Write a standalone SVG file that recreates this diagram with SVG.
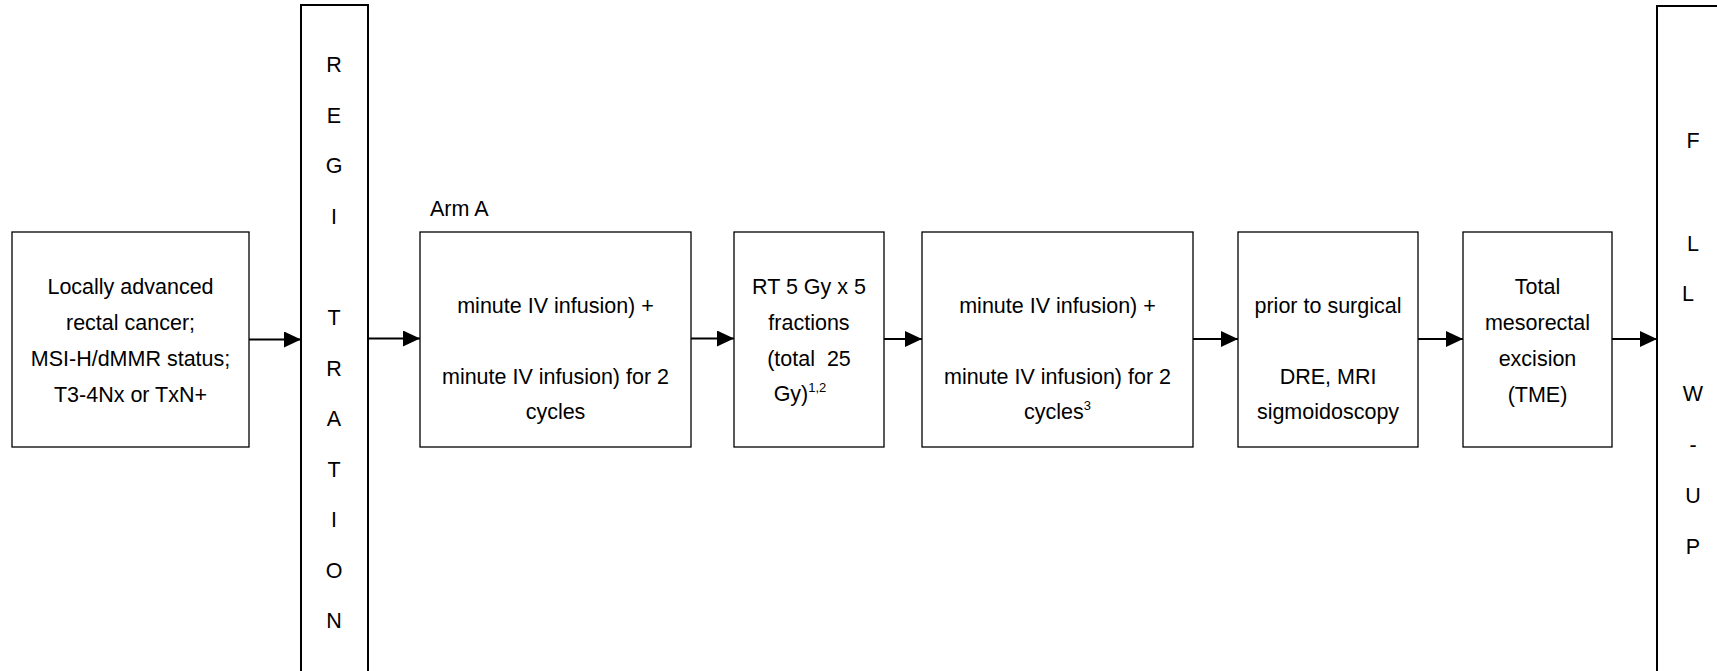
<svg xmlns="http://www.w3.org/2000/svg" width="1717" height="671" viewBox="0 0 1717 671">
<style>
text{font-family:"Liberation Sans",Arial,sans-serif;font-size:21.5px;fill:#000;text-anchor:middle}
.box{fill:#fff;stroke:#000;stroke-width:1.3}
.tall{fill:#fff;stroke:#000;stroke-width:2}
.sup{font-size:13px}
.conn{stroke:#000;stroke-width:2.2;fill:none;marker-end:url(#ah)}
</style>
<defs>
<marker id="ah" markerUnits="userSpaceOnUse" markerWidth="18" markerHeight="16" refX="17" refY="8" orient="auto">
<path d="M0,0 L17,8 L0,16 Z" fill="#000"/>
</marker>
</defs>
<rect width="1717" height="671" fill="#fff"/>
<g id="connectors">
<line class="conn" x1="249" y1="339.5" x2="301" y2="339.5"/>
<line class="conn" x1="368" y1="338.5" x2="420" y2="338.5"/>
<line class="conn" x1="691" y1="338.5" x2="734" y2="338.5"/>
<line class="conn" x1="884" y1="339" x2="922" y2="339"/>
<line class="conn" x1="1193" y1="339" x2="1238" y2="339"/>
<line class="conn" x1="1418" y1="339" x2="1463" y2="339"/>
<line class="conn" x1="1612" y1="339" x2="1657" y2="339"/>
</g>
<g id="node-population">
<rect class="box" x="12" y="232" width="237" height="215"/>
<text x="130.5" y="294">Locally advanced</text>
<text x="130.5" y="330">rectal cancer;</text>
<text x="130.5" y="366">MSI-H/dMMR status;</text>
<text x="130.5" y="402">T3-4Nx or TxN+</text>
</g>
<g id="node-registration">
<rect class="tall" x="301" y="5" width="67" height="680"/>
<text x="334" y="72">R</text>
<text x="334" y="123">E</text>
<text x="334" y="173">G</text>
<text x="334" y="224">I</text>
<text x="334" y="325">T</text>
<text x="334" y="376">R</text>
<text x="334" y="426">A</text>
<text x="334" y="477">T</text>
<text x="334" y="527">I</text>
<text x="334" y="578">O</text>
<text x="334" y="628">N</text>
</g>
<g id="node-armA">
<text x="430" y="216" style="text-anchor:start">Arm A</text>
<rect class="box" x="420" y="232" width="271" height="215"/>
<text x="555.5" y="312.5">minute IV infusion) +</text>
<text x="555.5" y="383.5">minute IV infusion) for 2</text>
<text x="555.5" y="419">cycles</text>
</g>
<g id="node-rt">
<rect class="box" x="734" y="232" width="150" height="215"/>
<text x="809" y="294">RT 5 Gy x 5</text>
<text x="809" y="330">fractions</text>
<text x="809" y="366" xml:space="preserve">(total  25</text>
<text x="800" y="401">Gy)<tspan class="sup" dy="-9">1,2</tspan></text>
</g>
<g id="node-chemo2">
<rect class="box" x="922" y="232" width="271" height="215"/>
<text x="1057.5" y="312.5">minute IV infusion) +</text>
<text x="1057.5" y="383.5">minute IV infusion) for 2</text>
<text x="1057.5" y="419">cycles<tspan class="sup" dy="-9">3</tspan></text>
</g>
<g id="node-assessment">
<rect class="box" x="1238" y="232" width="180" height="215"/>
<text x="1328" y="312.5">prior to surgical</text>
<text x="1328" y="383.5">DRE, MRI</text>
<text x="1328" y="419">sigmoidoscopy</text>
</g>
<g id="node-tme">
<rect class="box" x="1463" y="232" width="149" height="215"/>
<text x="1537.5" y="294">Total</text>
<text x="1537.5" y="330">mesorectal</text>
<text x="1537.5" y="366">excision</text>
<text x="1537.5" y="402">(TME)</text>
</g>
<g id="node-followup">
<rect class="tall" x="1657" y="6" width="80" height="680"/>
<text x="1693" y="148">F</text>
<text x="1693" y="251">L</text>
<text x="1688" y="301">L</text>
<text x="1693" y="401">W</text>
<text x="1693" y="452">-</text>
<text x="1693" y="503">U</text>
<text x="1693" y="554">P</text>
</g>
</svg>
